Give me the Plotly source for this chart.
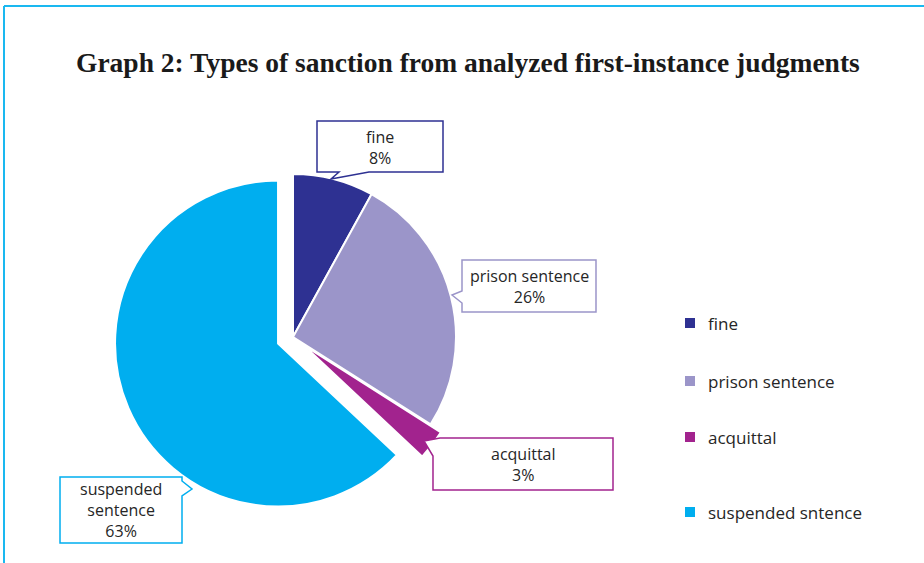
import plotly.graph_objects as go

W, H = 924, 563

labels = ["fine", "prison sentence", "acquittal", "suspended sentence"]
legend_names = ["fine", "prison sentence", "acquittal", "suspended sntence"]
values = [8, 26, 3, 63]
colors = ["#2E3192", "#9B95C9", "#A2238E", "#00AEEF"]
pulls = [0, 0, 0.08, 0.1]
callout_text = ["fine<br>8%", "prison sentence<br>26%", "acquittal<br>3%",
                "suspended<br>sentence<br>63%"]

def px(x):
    return x / W

def py(y):
    return 1 - y / H

# pie placement (pixels)
cx, cy, r = 293, 337, 163
ext = r * (1 + max(pulls))

fig = go.Figure()
fig.add_trace(go.Pie(
    labels=labels, values=values, sort=False, direction="clockwise",
    rotation=0, pull=pulls,
    marker=dict(colors=colors, line=dict(color="white", width=2)),
    textinfo="none", hoverinfo="label+percent", showlegend=False,
    domain=dict(x=[px(cx - ext), px(cx + ext)], y=[py(cy + ext), py(cy - ext)]),
))

shapes = []
annotations = []

# frame
shapes.append(dict(type="line", xref="paper", yref="paper", x0=px(4), x1=1.0,
                   y0=py(6), y1=py(6), line=dict(color="#1AB8F0", width=2)))
shapes.append(dict(type="line", xref="paper", yref="paper", x0=px(4), x1=px(4),
                   y0=py(6), y1=0, line=dict(color="#1AB8F0", width=2)))

# callout boxes: outline polygons in pixels (box + tail)
callouts = [
    # fine
    [(317, 121), (443, 121), (443, 172), (369, 172), (331, 179), (339, 172), (317, 172)],
    # prison
    [(462, 260), (596, 260), (596, 312), (462, 312), (462, 303), (452, 295), (462, 291)],
    # acquittal
    [(440, 438), (613, 438), (613, 490), (433, 490), (433, 456), (424, 441)],
    # suspended
    [(60, 477), (182, 477), (182, 481), (192, 489), (182, 496), (182, 543), (60, 543)],
]
centers = [(380, 147), (529, 286), (523, 464), (121, 510)]

def path_of(pts):
    s = "M " + " L ".join(f"{px(x):.5f},{py(y):.5f}" for x, y in pts) + " Z"
    return s

for i, pts in enumerate(callouts):
    shapes.append(dict(type="path", xref="paper", yref="paper", path=path_of(pts),
                       fillcolor="white", line=dict(color=colors[i], width=1.5)))
    annotations.append(dict(x=px(centers[i][0]), y=py(centers[i][1]), xref="paper",
                            yref="paper", text=callout_text[i], showarrow=False,
                            font=dict(family="Open Sans, sans-serif", size=16,
                                      color="#262626"),
                            xanchor="center", yanchor="middle"))

# legend (manual)
leg_y = [323, 381, 437, 512]
for i, name in enumerate(legend_names):
    shapes.append(dict(type="rect", xref="paper", yref="paper",
                       x0=px(685), x1=px(695), y0=py(leg_y[i] - 5), y1=py(leg_y[i] + 5),
                       fillcolor=colors[i], line=dict(width=0)))
    annotations.append(dict(x=px(706), y=py(leg_y[i]), xref="paper", yref="paper",
                            text=name, showarrow=False, xanchor="left", yanchor="middle",
                            font=dict(family="Open Sans, sans-serif", size=17,
                                      color="#262626")))

# title
annotations.append(dict(x=px(468), y=py(62), xref="paper", yref="paper",
                        text="<b>Graph 2: Types of sanction from analyzed first-instance judgments</b>",
                        showarrow=False, xanchor="center", yanchor="middle",
                        font=dict(family="Liberation Serif, DejaVu Serif, serif", size=27.5,
                                  color="#1a1a1a")))

fig.update_layout(width=W, height=H, margin=dict(l=0, r=0, t=0, b=0),
                  paper_bgcolor="white", plot_bgcolor="white",
                  shapes=shapes, annotations=annotations, showlegend=False)

fig.write_html("out.html")
